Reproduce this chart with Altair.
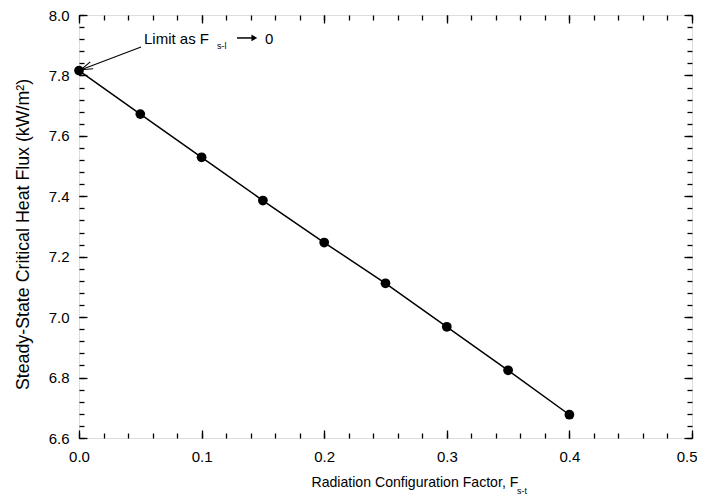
import altair as alt
import pandas as pd

# data
fsl = [0.0, 0.05, 0.10, 0.15, 0.20, 0.25, 0.30, 0.35, 0.40]
chf = [7.816, 7.672, 7.529, 7.386, 7.247, 7.112, 6.968, 6.824, 6.677]

x_major = [0.0, 0.1, 0.2, 0.3, 0.4, 0.5]
x_labels_main = [0.0, 0.1, 0.2, 0.3, 0.4]
x_labels_end = [0.5]
x_minor = [round(i * 0.02, 2) for i in range(26)]
y_major = [6.6, 6.8, 7.0, 7.2, 7.4, 7.6, 7.8, 8.0]
y_minor = [round(6.6 + i * 0.04, 2) for i in range(36)]

# annotation (data units)
ann_text = ["Limit as F", "s-l", "0"]
ann_x = [0.053, 0.1126, 0.1517]
ann_y = [7.921, 7.897, 7.921]
ann_size = [15, 9, 15]
xt_sub_x = [0.3572]
xt_sub_y = [6.4246]

arrow_x = [0.0506]
arrow_y = [7.894]
arrow_x2 = [0.0017]
arrow_y2 = [7.819]
wing_x = [0.0017, 0.0017]
wing_y = [7.819, 7.819]
wing_x2 = [0.0115, 0.0092]
wing_y2 = [7.822, 7.845]
sym_x = [0.1289]
sym_x2 = [0.1410]
sym_y = [7.924]
head_x = [0.1430]

FONT = "Liberation Sans"
W, H = 613, 423

df = pd.DataFrame({"F": fsl, "q": chf})
xs = alt.Scale(domain=[0, 0.5], nice=False, zero=False)
ys = alt.Scale(domain=[6.6, 8.0], nice=False, zero=False)

def tick_axis(orient, values, size, offset):
    return alt.Axis(orient=orient, values=values, tickSize=size, ticks=True,
                    labels=False, domain=False, grid=False, title="",
                    offset=offset, tickColor="black", tickWidth=1.3)

base = alt.Chart(df)

line = base.mark_line(color="black", strokeWidth=1.5).encode(
    x=alt.X("F:Q", scale=xs, axis=alt.Axis(
        orient="bottom", values=x_labels_main, format=".1f", ticks=False, domain=False,
        grid=False, labelFontSize=15, labelFont=FONT, labelColor="black",
        labelFlush=False, labelPadding=11,
        title="Radiation Configuration Factor, F",
        titleFont=FONT, titleFontSize=14.1, titleFontWeight="normal",
        titleColor="black", titlePadding=11, titleX=232, titleAlign="left",
        titleAnchor="start")),
    y=alt.Y("q:Q", scale=ys, axis=alt.Axis(
        orient="left", values=y_major, format=".1f", ticks=False, domain=False,
        grid=False, labelFontSize=15, labelFont=FONT, labelColor="black",
        labelFlush=False, labelPadding=10,
        title="Steady-State Critical Heat Flux (kW/m²)",
        titleFont=FONT, titleFontSize=17.8, titleFontWeight="normal",
        titleColor="black", titlePadding=16, titleY=219)),
)

end_lab = base.mark_line(strokeOpacity=0).encode(
    x=alt.X("F:Q", scale=xs, axis=alt.Axis(
        orient="bottom", values=x_labels_end, format=".1f", ticks=False, domain=False,
        grid=False, labelFontSize=15, labelFont=FONT, labelColor="black",
        labelFlush=True, labelFlushOffset=5, labelPadding=11, title="", offset=0)),
    y=alt.Y("q:Q", scale=ys, axis=None),
)

pts = base.mark_circle(color="black", size=95, opacity=1).encode(
    x=alt.X("F:Q", scale=xs, axis=tick_axis("top", x_major, 8, -H)),
    y=alt.Y("q:Q", scale=ys, axis=tick_axis("right", y_major, 8, -W)),
)
t2 = base.mark_line(strokeOpacity=0).encode(
    x=alt.X("F:Q", scale=xs, axis=tick_axis("top", x_minor, 5, -H)),
    y=alt.Y("q:Q", scale=ys, axis=tick_axis("right", y_minor, 5, -W)),
)
t3 = base.mark_line(strokeOpacity=0).encode(
    x=alt.X("F:Q", scale=xs, axis=tick_axis("bottom", x_major, 8, -H)),
    y=alt.Y("q:Q", scale=ys, axis=tick_axis("left", y_major, 8, -W)),
)
t4 = base.mark_line(strokeOpacity=0).encode(
    x=alt.X("F:Q", scale=xs, axis=tick_axis("bottom", x_minor, 5, -H)),
    y=alt.Y("q:Q", scale=ys, axis=tick_axis("left", y_minor, 5, -W)),
)

ann = alt.Chart(pd.DataFrame({"t": ann_text, "x": ann_x, "y": ann_y, "s": ann_size})).mark_text(
    align="left", baseline="middle", font=FONT, color="black").encode(
    x=alt.X("x:Q", scale=xs, axis=None), y=alt.Y("y:Q", scale=ys, axis=None),
    text="t:N", size=alt.Size("s:Q", scale=None, legend=None))

sub = alt.Chart(pd.DataFrame({"t": ["s-t"], "x": xt_sub_x, "y": xt_sub_y})).mark_text(
    align="left", baseline="middle", font=FONT, fontSize=9, color="black").encode(
    x=alt.X("x:Q", scale=xs, axis=None), y=alt.Y("y:Q", scale=ys, axis=None), text="t:N")

arrow = alt.Chart(pd.DataFrame({"x": arrow_x + wing_x, "y": arrow_y + wing_y,
                                "x2": arrow_x2 + wing_x2, "y2": arrow_y2 + wing_y2})).mark_rule(
    color="black", strokeWidth=1.1).encode(
    x=alt.X("x:Q", scale=xs, axis=None), y=alt.Y("y:Q", scale=ys, axis=None),
    x2="x2:Q", y2="y2:Q")

sym = alt.Chart(pd.DataFrame({"x": sym_x, "x2": sym_x2, "y": sym_y})).mark_rule(
    color="black", strokeWidth=1.5).encode(
    x=alt.X("x:Q", scale=xs, axis=None), x2="x2:Q", y=alt.Y("y:Q", scale=ys, axis=None))

head = alt.Chart(pd.DataFrame({"x": head_x, "y": sym_y})).mark_point(
    shape="triangle-right", filled=True, color="black", size=45, opacity=1).encode(
    x=alt.X("x:Q", scale=xs, axis=None), y=alt.Y("y:Q", scale=ys, axis=None))

chart = alt.layer(line, end_lab, pts, t2, t3, t4, ann, sub, arrow, sym, head).resolve_axis(
    x="independent", y="independent").properties(
    width=W, height=H,
    autosize=alt.AutoSizeParams(type="none"),
    padding={"left": 71, "top": 7, "right": 5, "bottom": 58},
).configure_view(stroke="black", strokeWidth=1.6).configure(background="white")

chart.save("out.html", embed_options={"renderer": "svg", "actions": False})
